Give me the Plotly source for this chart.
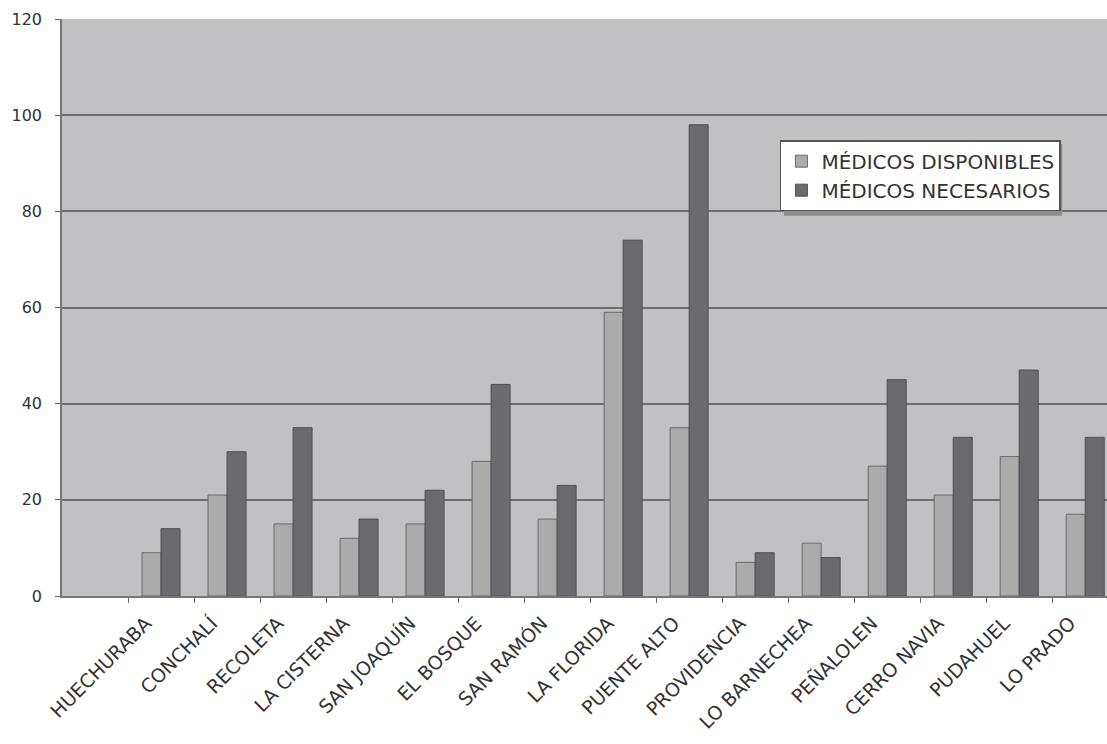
import plotly.graph_objects as go

comunas = ["HUECHURABA", "CONCHALÍ", "RECOLETA", "LA CISTERNA", "SAN JOAQUÍN",
           "EL BOSQUE", "SAN RAMÓN", "LA FLORIDA", "PUENTE ALTO", "PROVIDENCIA",
           "LO BARNECHEA", "PEÑALOLEN", "CERRO NAVIA", "PUDAHUEL", "LO PRADO"]
disponibles = [9, 21, 15, 12, 15, 28, 16, 59, 35, 7, 11, 27, 21, 29, 17]
necesarios = [14, 30, 35, 16, 22, 44, 23, 74, 98, 9, 8, 45, 33, 47, 33]
y_ticks = [0, 20, 40, 60, 80, 100, 120]

FONT = "DejaVu Sans"
TXT = "#333333"

fig = go.Figure()
fig.add_trace(go.Bar(
    x=comunas, y=disponibles, name="MÉDICOS DISPONIBLES",
    marker=dict(color="#ababab", line=dict(color="#6a6a6a", width=1)),
))
fig.add_trace(go.Bar(
    x=comunas, y=necesarios, name="MÉDICOS NECESARIOS",
    marker=dict(color="#6b6b6f", line=dict(color="#505050", width=1)),
))

fig.update_layout(
    width=1107, height=744,
    margin=dict(l=62, r=0, t=19, b=148),
    paper_bgcolor="white",
    plot_bgcolor="#c1c1c3",
    barmode="group",
    bargap=0.424,
    bargroupgap=0,
    font=dict(family=FONT, color=TXT, size=16),
    legend=dict(
        x=0.687, y=0.79, xanchor="left", yanchor="top",
        bgcolor="white", bordercolor="#555555", borderwidth=1.5,
        font=dict(family=FONT, size=20, color=TXT),
        itemwidth=30,
        tracegroupgap=0,
    ),
    showlegend=True,
    shapes=[dict(
        type="rect", xref="paper", yref="paper", layer="above",
        x0=0.6909, x1=0.9570, y0=0.6590, y1=0.7834,
        fillcolor="#8c8c8c", line=dict(width=0),
    )],
)
fig.update_xaxes(
    type="category",
    range=[-1.5, 14.33],
    tickangle=-45,
    tickfont=dict(family=FONT, size=19, color=TXT),
    ticks="outside", tickson="boundaries", ticklen=5, tickcolor="#666666",
    ticklabelshift=-15, ticklabelstandoff=7,
    showline=True, linecolor="#777777", linewidth=1.5,
    showgrid=False,
)
fig.update_yaxes(
    range=[0, 120],
    tickvals=y_ticks,
    tickfont=dict(family=FONT, size=16, color=TXT),
    ticks="outside", ticklen=5, tickcolor="#666666",
    ticklabelstandoff=10,
    showline=True, linecolor="#777777", linewidth=1.5,
    showgrid=True, gridcolor="#6e6e6e", gridwidth=1.5,
    zeroline=False,
)

fig.write_html("out.html")
